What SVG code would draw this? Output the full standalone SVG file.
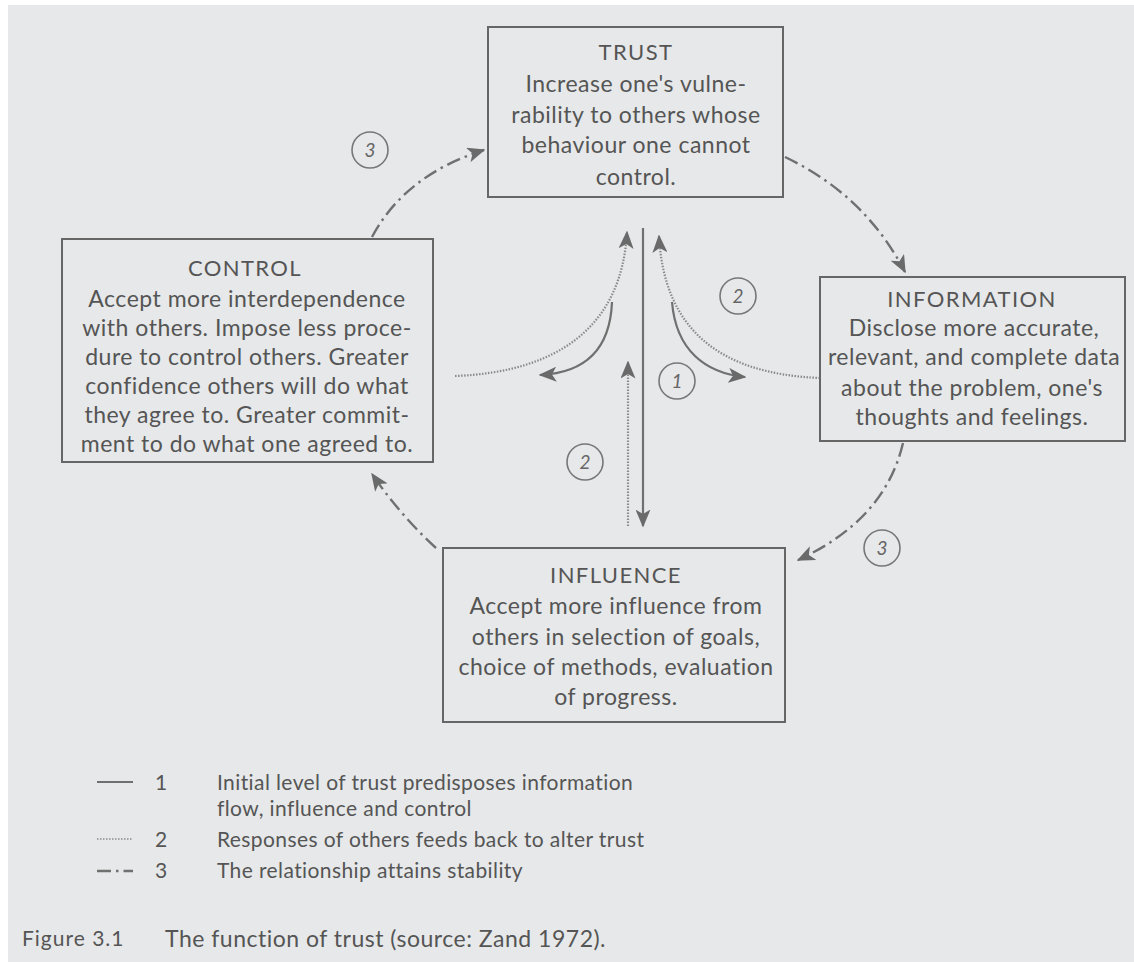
<svg xmlns="http://www.w3.org/2000/svg" width="1134" height="962" viewBox="0 0 1134 962">
<style>
.box{fill:none;stroke:#666;stroke-width:2}
.t{font-family:Lato,"Liberation Sans",sans-serif;font-size:23px;fill:#555;text-anchor:middle;letter-spacing:0.5px}
.h{font-family:Lato,"Liberation Sans",sans-serif;font-size:22px;fill:#555;text-anchor:middle;letter-spacing:1.4px}
.lg{font-family:Lato,"Liberation Sans",sans-serif;font-size:21px;fill:#555;letter-spacing:0.4px}
.solid{fill:none;stroke:#707070;stroke-width:2.2}
.dot{fill:none;stroke:#8a8a8a;stroke-width:2.2;stroke-dasharray:1.5 1.5}
.dd{fill:none;stroke:#707070;stroke-width:2.4;stroke-dasharray:14 5 2.5 5}
.circ{fill:none;stroke:#777;stroke-width:1.6}
.num{font-family:Lato,"Liberation Sans",sans-serif;font-size:19px;fill:#666;text-anchor:middle;font-style:italic}
</style>
<defs>
<marker id="ah" viewBox="0 0 12 10" refX="11" refY="5" markerWidth="18" markerHeight="15" markerUnits="userSpaceOnUse" orient="auto">
<path d="M0,0 L12,5 L0,10 L3,5 z" fill="#6a6a6a"/>
</marker>
</defs>
<rect x="0" y="0" width="1134" height="962" fill="#ffffff"/>
<rect x="8" y="5" width="1126" height="957" fill="#e6e8e9"/>

<g id="connectors">
<path class="solid" d="M643,228 L643,526" marker-end="url(#ah)"/>
<path class="dot" d="M628,526 L628,362" marker-end="url(#ah)"/>
<path class="dot" d="M455,376 C560,372 622,325 627,232" marker-end="url(#ah)"/>
<path class="dot" d="M820,378 C720,374 664,330 659,236" marker-end="url(#ah)"/>
<path class="solid" d="M612,302 C610,352 582,373 540,375" marker-end="url(#ah)"/>
<path class="solid" d="M672,302 C676,350 705,373 745,377" marker-end="url(#ah)"/>
<path class="dd" d="M372,237 Q405,175 484,150" marker-end="url(#ah)"/>
<path class="dd" d="M785,157 Q865,195 905,272" marker-end="url(#ah)"/>
<path class="dd" d="M903,443 Q885,520 798,560" marker-end="url(#ah)"/>
<path class="dd" d="M436,548 Q400,515 372,474" marker-end="url(#ah)"/>
</g>

<g id="labels">
<circle class="circ" cx="370" cy="150" r="18"/><text class="num" x="370" y="157">3</text>
<circle class="circ" cx="738" cy="296" r="18"/><text class="num" x="738" y="303">2</text>
<circle class="circ" cx="677" cy="381" r="18"/><text class="num" x="677" y="388">1</text>
<circle class="circ" cx="585" cy="462" r="18"/><text class="num" x="585" y="469">2</text>
<circle class="circ" cx="882" cy="548" r="18"/><text class="num" x="882" y="555">3</text>
</g>

<g id="trust">
<rect class="box" x="488" y="27" width="295" height="170"/>
<text class="h" x="636" y="60">TRUST</text>
<text class="t" x="636" y="92">Increase one's vulne-</text>
<text class="t" x="636" y="123">rability to others whose</text>
<text class="t" x="636" y="153">behaviour one cannot</text>
<text class="t" x="636" y="185">control.</text>
</g>

<g id="control">
<rect class="box" x="62" y="239" width="371" height="223"/>
<text class="h" x="245" y="276">CONTROL</text>
<text class="t" x="247" y="307">Accept more interdependence</text>
<text class="t" x="247" y="336">with others. Impose less proce-</text>
<text class="t" x="247" y="365">dure to control others. Greater</text>
<text class="t" x="247" y="394">confidence others will do what</text>
<text class="t" x="247" y="423">they agree to. Greater commit-</text>
<text class="t" x="247" y="452">ment to do what one agreed to.</text>
</g>

<g id="information">
<rect class="box" x="820" y="277" width="305" height="164"/>
<text class="h" x="972" y="307">INFORMATION</text>
<text class="t" x="974" y="336">Disclose more accurate,</text>
<text class="t" x="974" y="365">relevant, and complete data</text>
<text class="t" x="972" y="396">about the problem, one's</text>
<text class="t" x="972" y="425">thoughts and feelings.</text>
</g>

<g id="influence">
<rect class="box" x="443" y="548" width="342" height="174"/>
<text class="h" x="616" y="583">INFLUENCE</text>
<text class="t" x="616" y="614">Accept more influence from</text>
<text class="t" x="616" y="645">others in selection of goals,</text>
<text class="t" x="616" y="675">choice of methods, evaluation</text>
<text class="t" x="616" y="705">of progress.</text>
</g>

<g id="legend">
<line class="solid" x1="97" y1="782" x2="133" y2="782"/>
<line class="dot" x1="97" y1="839" x2="133" y2="839" style="stroke-width:1.5"/>
<line class="dd" x1="97" y1="871" x2="133" y2="871"/>
<text class="lg" x="155" y="790">1</text>
<text class="lg" x="217" y="790">Initial level of trust predisposes information</text>
<text class="lg" x="217" y="816">flow, influence and control</text>
<text class="lg" x="155" y="847">2</text>
<text class="lg" x="217" y="847">Responses of others feeds back to alter trust</text>
<text class="lg" x="155" y="878">3</text>
<text class="lg" x="217" y="878">The relationship attains stability</text>
</g>

<g id="caption">
<text class="lg" x="22" y="946" style="font-size:21px;letter-spacing:1px">Figure 3.1</text>
<text class="lg" x="165" y="947" style="font-size:23px;letter-spacing:0.5px">The function of trust (source: Zand 1972).</text>
</g>
</svg>
